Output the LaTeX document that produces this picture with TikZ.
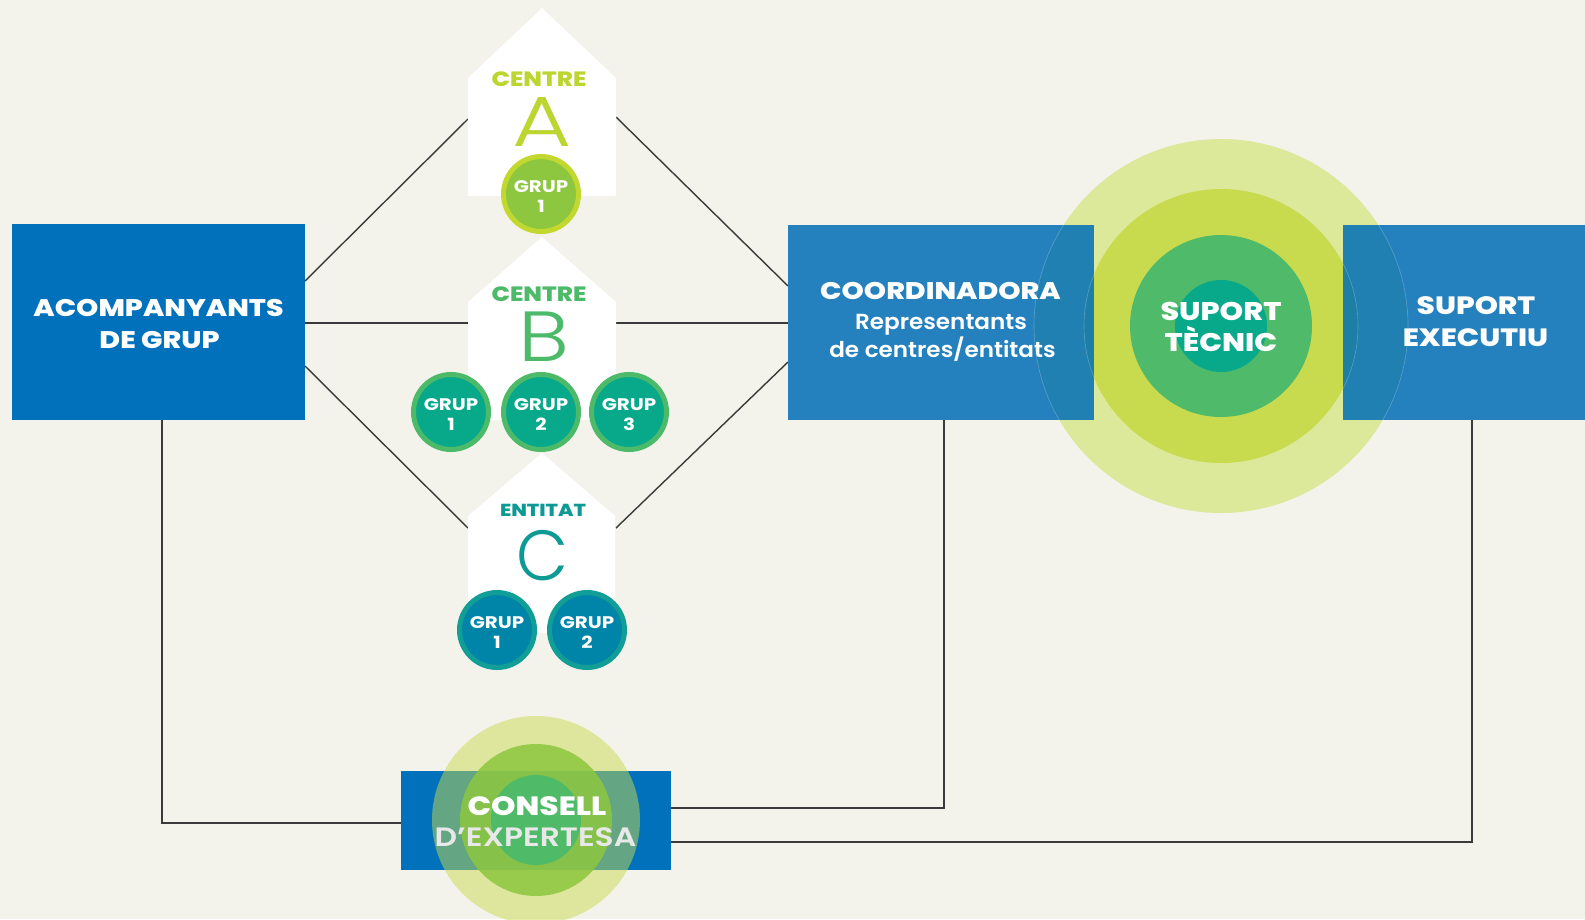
\documentclass[tikz,border=0pt]{standalone}
\usepackage{fontspec}
\setmainfont{Poppins}
\newfontfamily\popxb{Poppins ExtraBold}[FakeStretch=1.18]
\newfontfamily\popb{Poppins Bold}[FakeStretch=1.18]
\newfontfamily\popsb{Poppins SemiBold}[FakeStretch=1.18]
\newfontfamily\popsbn{Poppins SemiBold}[FakeStretch=1.06]
\newfontfamily\poplt{Poppins Light}
\definecolor{bgc}{HTML}{F3F3EC}
\definecolor{acompc}{HTML}{0071BA}
\definecolor{boxc}{HTML}{006EB6}
\definecolor{linec}{HTML}{3A3A3A}
\definecolor{cA}{HTML}{BCD531}
\definecolor{ringA}{HTML}{C2D82F}
\definecolor{fillA}{HTML}{8DC63F}
\definecolor{cB}{HTML}{4DBA6A}
\definecolor{fillB}{HTML}{08A98A}
\definecolor{cC}{HTML}{0E9A94}
\definecolor{ringC}{HTML}{119E96}
\definecolor{fillC}{HTML}{0085A9}
\definecolor{stA}{HTML}{DCE89A}
\definecolor{stB}{HTML}{C8DB4E}
\definecolor{stC}{HTML}{4FBA6A}
\definecolor{stD}{HTML}{08A98A}
\definecolor{expc}{HTML}{E8E8E8}
\tikzset{
  conn/.style={draw=linec, line width=1.4pt},
  housebody/.style={fill=white},
  boxnode/.style={rectangle, inner sep=0pt},
  grupnode/.style={circle, minimum size=75pt, line width=5pt, inner sep=0pt},
  tl/.style={inner sep=0pt, anchor=base, text=white},
  bigbold/.style={font=\popxb\fontsize{24}{24}\selectfont},
  grupfont/.style={font=\popb\fontsize{16.8}{17}\selectfont},
  htitle/.style={inner sep=0pt, anchor=base, font=\popxb\fontsize{20.7}{21}\selectfont},
  hletter/.style={inner sep=0pt, anchor=base, font=\poplt\fontsize{71}{71}\selectfont},
}
\begin{document}
\begin{tikzpicture}[x=1pt,y=-1pt]
\fill[bgc] (0,0) rectangle (1585,919);
\useasboundingbox (0,0) rectangle (1585,919);

% connector ends on houses
\coordinate (aL) at (468,119);
\coordinate (aR) at (616,117);
\coordinate (bL) at (468,323);
\coordinate (bR) at (616,323);
\coordinate (cL) at (468,528);
\coordinate (cR) at (616,528);

% boxes
\node[boxnode, fill=acompc, minimum width=293pt, minimum height=196pt] (acomp) at (158.5,322) {};
\path (941,322.5) node[boxnode, minimum width=306pt, minimum height=195pt] (coord) {};
\path (1475,322.5) node[boxnode, minimum width=264pt, minimum height=195pt] (exec) {};
\node[boxnode, fill=acompc, minimum width=270pt, minimum height=99pt] (consell) at (536,820.5) {};

\coordinate (acA) at (305,281);
\coordinate (acB) at (305,323);
\coordinate (acC) at (305,366);
\coordinate (coA) at (788,286);
\coordinate (coB) at (788,323);
\coordinate (coC) at (788,362);
\coordinate (acS) at (162,420);
\coordinate (coS) at (944,420);
\coordinate (exS) at (1472,420);
\coordinate (csL) at (401,823);
\coordinate (csR1) at (671,808);
\coordinate (csR2) at (671,842);

% connectors
\draw[conn] (acA) -- (aL);
\draw[conn] (acB) -- (bL);
\draw[conn] (acC) -- (cL);
\draw[conn] (coA) -- (aR);
\draw[conn] (coB) -- (bR);
\draw[conn] (coC) -- (cR);
\draw[conn] (acS) |- (csL);
\draw[conn] (coS) |- (csR1);
\draw[conn] (exS) |- (csR2);

% houses
\fill[housebody] (468,196) -- (468,78) -- (542,8) -- (616,78) -- (616,196) -- cycle;
\fill[housebody] (468,420) -- (468,302) -- (542,237) -- (616,302) -- (616,420) -- cycle;
\fill[housebody] (468,633) -- (468,516) -- (542,453) -- (615,516) -- (615,633) -- cycle;

\node[htitle, text=cA] (tA) at (539,86) {CENTRE};
\node[hletter, text=cA] (lA) at (542.5,146.7) {\scalebox{1.28}[1]{A}};
\node[htitle, text=cB] (tB) at (539,301.7) {CENTRE};
\node[hletter, text=cB] (lB) at (543.5,361.7) {\scalebox{1.2}[1]{B}};
\node[htitle, text=cC, font=\popxb\fontsize{17.4}{18}\selectfont] (tC) at (543,516) {ENTITAT};
\node[hletter, text=cC] (lC) at (542,580) {\scalebox{0.95}[1]{C}};

% grup circles
\node[grupnode, draw=ringA, fill=fillA] (gA1) at (541,194) {};
\node[grupnode, draw=cB, fill=fillB] (gB1) at (451,412) {};
\node[grupnode, draw=cB, fill=fillB] (gB2) at (541,412) {};
\node[grupnode, draw=cB, fill=fillB] (gB3) at (629,412) {};
\node[grupnode, draw=ringC, fill=fillC] (gC1) at (497,630) {};
\node[grupnode, draw=ringC, fill=fillC] (gC2) at (587,630) {};
\foreach \g/\n in {gA1/1, gB1/1, gB2/2, gB3/3, gC1/1, gC2/2}{
  \node[tl, grupfont] (\g t) at ([yshift=1.5pt]\g.center) {GRUP};
  \node[tl, grupfont] (\g n) at ([yshift=-18.8pt]\g.center) {\n};
}

% suport tecnic circles
\coordinate (st) at (1221,326);
\fill[stA] (st) circle[radius=187pt];
\fill[stB] (st) circle[radius=137pt];
\fill[stC] (st) circle[radius=91pt];
\fill[stD] (st) circle[radius=46pt];

% translucent right boxes
\fill[boxc, fill opacity=0.85] (coord.north west) rectangle (coord.south east);
\fill[boxc, fill opacity=0.85] (exec.north west) rectangle (exec.south east);
\begin{scope}
  \clip (coord.north west) rectangle (coord.south east) (exec.north west) rectangle (exec.south east);
  \draw[white, draw opacity=0.25, line width=0.6pt] (st) circle[radius=187pt] (st) circle[radius=137pt];
\end{scope}

% box texts
\node[tl, bigbold] (ac1) at (158.5,316.7) {ACOMPANYANTS};
\node[tl, bigbold] (ac2) at (159.5,348) {DE GRUP};
\node[tl, font=\popxb\fontsize{24}{24}\selectfont] (co1) at (940.5,299) {COORDINADORA};
\node[tl, font=\popsbn\fontsize{21.8}{22}\selectfont] (co2) at (941,329) {Representants};
\node[tl, font=\popsbn\fontsize{21.8}{22}\selectfont] (co3) at (942.5,357) {de centres/entitats};
\node[tl, font=\popxb\fontsize{25}{25}\selectfont] (ex1) at (1476,314) {SUPORT};
\node[tl, font=\popxb\fontsize{25}{25}\selectfont] (ex2) at (1475.5,346.7) {EXECUTIU};
\node[tl, font=\popxb\fontsize{25.5}{25}\selectfont] (st1) at (1221,320) {SUPORT};
\node[tl, font=\popxb\fontsize{25.5}{25}\selectfont] (st2) at (1221,351.7) {TÈCNIC};

% consell circles
\coordinate (cs) at (536,820);
\fill[stB, fill opacity=0.5] (cs) circle[radius=104pt];
\fill[fillA, fill opacity=0.85] (cs) circle[radius=76pt];
\fill[cB, fill opacity=0.95] (cs) circle[radius=45pt];
\node[tl, font=\popxb\fontsize{26.4}{26}\selectfont] (cs1) at (537,815) {CONSELL};
\node[tl, text=expc, font=\popsb\fontsize{26.6}{26}\selectfont] (cs2) at (535.5,846) {D’EXPERTESA};
\end{tikzpicture}
\end{document}
